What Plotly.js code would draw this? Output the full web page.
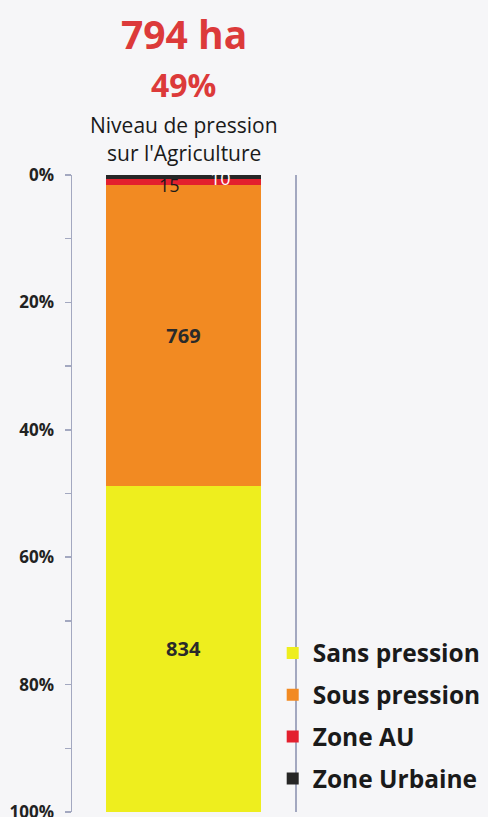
<!DOCTYPE html>
<html><head><meta charset="utf-8">
<script src="https://cdn.plot.ly/plotly-3.0.1.min.js"></script>
<style>html,body{margin:0;padding:0;background:#f6f6f8;}</style>
</head><body><div id="chart" style="width:488px;height:817px;"></div>
<script>
const category = ["Niveau de pression sur l'Agriculture"];
const seriesNames = ["Zone Urbaine", "Zone AU", "Sous pression", "Sans pression"];
const seriesValues = [10, 15, 769, 834];
const seriesColors = ["#262626", "#e3202e", "#f28a22", "#eeee1e"];
const tickVals = [0, 20, 40, 60, 80, 100];
const tickText = ["0%", "20%", "40%", "60%", "80%", "100%"];

const FONT = "'Open Sans', Lato, sans-serif";
const total = seriesValues.reduce((a, b) => a + b, 0);
const pressured = seriesValues[0] + seriesValues[1] + seriesValues[2];

const traces = seriesNames.map((name, i) => ({
  type: 'bar',
  name: name,
  x: category,
  y: [seriesValues[i]],
  marker: {color: seriesColors[i], line: {width: 0}},
  text: i >= 2 ? [String(seriesValues[i])] : [''],
  textposition: 'inside',
  insidetextanchor: 'middle',
  textfont: {family: FONT, size: 20, color: '#2a2a2a', weight: 'bold'},
  legendgroup: 'g' + i,
  legendrank: 4 - i,
  hoverinfo: 'skip'
}));

let cum = 0;
const mids = seriesValues.map(v => { const m = (cum + v / 2) / total * 100; cum += v; return m; });

const py = p => 1 + (174.6 - p) / 637.4;
const annotations = [
  {xref: 'paper', yref: 'paper', x: 0.5, y: py(33), yanchor: 'middle', showarrow: false,
   text: pressured + ' ha', font: {family: FONT, size: 39, color: '#dc3a3a', weight: 'bold'}},
  {xref: 'paper', yref: 'paper', x: 0.5, y: py(84), yanchor: 'middle', showarrow: false,
   text: Math.round(pressured / total * 100) + '%', font: {family: FONT, size: 32, color: '#dc3a3a', weight: 'bold'}},
  {xref: 'paper', yref: 'paper', x: 0.5, y: py(125), yanchor: 'middle', showarrow: false,
   text: "Niveau de pression", font: {family: FONT, size: 21, color: '#1a1a1a'}},
  {xref: 'paper', yref: 'paper', x: 0.5, y: py(153), yanchor: 'middle', showarrow: false,
   text: "sur l'Agriculture", font: {family: FONT, size: 21, color: '#1a1a1a'}},
  {x: category[0], y: mids[1], xshift: -14, yshift: -3, showarrow: false, text: String(seriesValues[1]),
   font: {family: FONT, size: 18, color: '#1a1a1a'}},
  {x: category[0], y: mids[0], xshift: 37, yshift: -1, showarrow: false, text: String(seriesValues[0]),
   font: {family: FONT, size: 18, color: '#ffffff'}}
];

const layout = {
  width: 488, height: 817,
  paper_bgcolor: '#f6f6f8', plot_bgcolor: 'rgba(0,0,0,0)',
  margin: {l: 72, r: 193, t: 175, b: 5, autoexpand: false},
  barmode: 'stack', barnorm: 'percent', bargap: 0.305,
  showlegend: true,
  legend: {x: 0.9, xanchor: 'left', y: 0.285, yanchor: 'top', traceorder: 'grouped', tracegroupgap: 7,
           bgcolor: 'rgba(0,0,0,0)', font: {family: FONT, size: 24.5, color: '#1a1a1a', weight: 'bold'}},
  xaxis: {showticklabels: false, showline: false, showgrid: false, zeroline: false, ticks: ''},
  yaxis: {range: [100, 0], tickvals: tickVals, ticktext: tickText, showgrid: false, zeroline: false,
          showline: true, linecolor: '#a3a8c0', linewidth: 1.5, mirror: true,
          ticks: 'outside', ticklen: 6, tickcolor: '#a3a8c0', tickwidth: 1.5,
          minor: {tickvals: [10, 30, 50, 70, 90], ticks: 'outside', ticklen: 6, tickcolor: '#a3a8c0', tickwidth: 1.5},
          ticklabelstandoff: 7, ticklabeloverflow: 'allow',
          tickfont: {family: FONT, size: 17, color: '#222', weight: 'bold'}},
  yaxis2: {overlaying: 'y', side: 'left', range: [100, 0], showticklabels: false, showgrid: false, zeroline: false,
           tickvals: tickVals, ticks: 'inside', ticklen: 6, tickcolor: '#a3a8c0', tickwidth: 1.5,
           minor: {tickvals: [10, 30, 50, 70, 90], ticks: 'inside', ticklen: 6, tickcolor: '#a3a8c0', tickwidth: 1.5}},
  annotations: annotations
};

Plotly.newPlot('chart', traces, layout, {displayModeBar: false, staticPlot: true});
</script></body></html>
